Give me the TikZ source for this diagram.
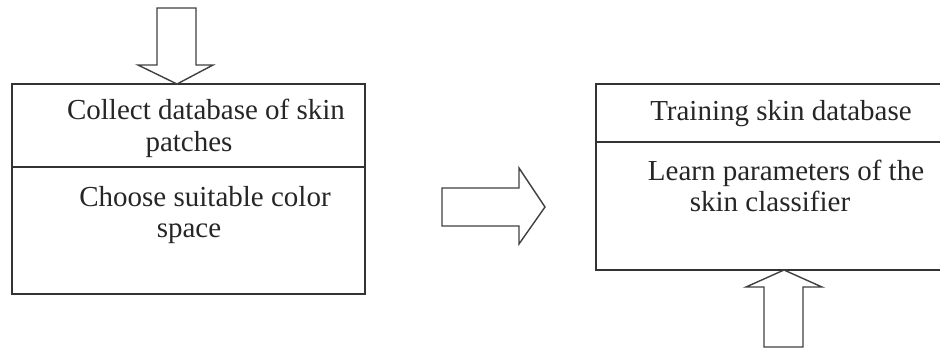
\documentclass[tikz,border=0pt]{standalone}
\usepackage{fontspec}
\setmainfont{Liberation Serif}
\begin{document}
\begin{tikzpicture}[x=1pt,y=-1pt,
  boxline/.style={draw=black!80,line width=2pt},
  blockarrow/.style={draw=black!75,line width=1.4pt,fill=white,line join=miter},
  txt/.style={inner sep=0pt,font=\fontsize{29}{29}\selectfont,text=black!85,anchor=base}]
\useasboundingbox (0,0) rectangle (940,349);
% left box
\coordinate (L1) at (12,84);
\coordinate (L2) at (365,294);
\draw[boxline] (L1) rectangle (L2);
\coordinate (LdA) at (12,167);
\coordinate (LdB) at (365,167);
\draw[boxline] (LdA) -- (LdB);
\node[txt] (t1) at (206,119) {Collect database of skin};
\node[txt] (t2) at (189,151) {patches};
\node[txt] (t3) at (205,206) {Choose suitable color};
\node[txt] (t4) at (189,237) {space};
% right box (open to the right edge)
\coordinate (R1) at (945,84);
\coordinate (R2) at (596,84);
\coordinate (R3) at (596,270);
\coordinate (R4) at (945,270);
\draw[boxline] (R1) -- (R2) -- (R3) -- (R4);
\coordinate (RdA) at (596,142);
\coordinate (RdB) at (945,142);
\draw[boxline] (RdA) -- (RdB);
\node[txt] (t5) at (781,120) {Training skin database};
\node[txt] (t6) at (786,180) {Learn parameters of the};
\node[txt] (t7) at (770,211) {skin classifier};
% top arrow
\draw[blockarrow] (157,8) -- (196,8) -- (196,65) -- (213,65) -- (177,84) -- (138,65) -- (157,65) -- cycle;
% middle arrow
\draw[blockarrow] (442,188) -- (519,188) -- (519,168) -- (545,207) -- (519,244) -- (519,226) -- (442,226) -- cycle;
% bottom arrow
\draw[blockarrow] (764,347) -- (764,287) -- (746,287) -- (784,270) -- (822,287) -- (803,287) -- (803,347) -- cycle;
\end{tikzpicture}
\end{document}
